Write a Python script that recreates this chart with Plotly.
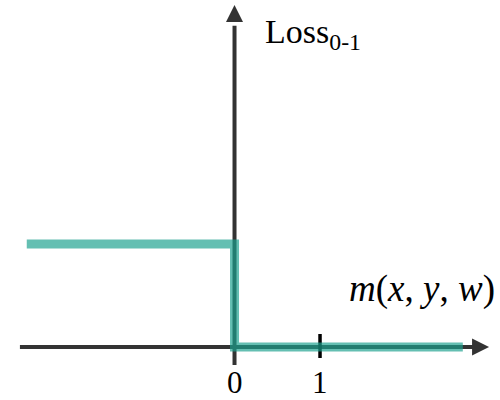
import plotly.graph_objects as go

# 0-1 loss as a function of the margin m(x, y, w)
margin = [-2.43, 0.0, 0.0, 2.67]
loss = [1, 1, 0, 0]

tick_values = [0, 1]
tick_labels = ["0", "1"]

x_axis_span = [-2.51, 2.80]
x_arrow_tip = 2.977
y_axis_span = [-0.175, 3.12]
y_arrow_tip = 3.320

AXIS = "#333333"
TEAL = "rgba(26,160,141,0.68)"
FONT = "Liberation Serif"

fig = go.Figure()

# axis lines (drawn under the loss curve)
fig.add_trace(go.Scatter(x=x_axis_span, y=[0, 0], mode="lines",
                         line=dict(color=AXIS, width=4), hoverinfo="skip"))
fig.add_trace(go.Scatter(x=[0, 0], y=y_axis_span, mode="lines",
                         line=dict(color=AXIS, width=4), hoverinfo="skip"))
# arrow heads
fig.add_trace(go.Scatter(x=[x_arrow_tip], y=[0], mode="markers",
                         marker=dict(symbol="arrow-right", size=17, color=AXIS,
                                     line=dict(width=0)), hoverinfo="skip"))
fig.add_trace(go.Scatter(x=[0], y=[y_arrow_tip], mode="markers",
                         marker=dict(symbol="arrow-up", size=17, color=AXIS,
                                     line=dict(width=0)), hoverinfo="skip"))
# tick mark at 1
fig.add_trace(go.Scatter(x=[1, 1], y=[-0.107, 0.126], mode="lines",
                         line=dict(color="black", width=3.5), hoverinfo="skip"))

# loss curve
fig.add_trace(go.Scatter(x=margin, y=loss, mode="lines",
                         line=dict(color=TEAL, width=9), hoverinfo="skip"))

for v, lab in zip(tick_values, tick_labels):
    fig.add_annotation(x=v, y=-0.345, xref="x", yref="y", text=lab,
                       showarrow=False, xanchor="center", yanchor="middle",
                       borderpad=0,
                       font=dict(family=FONT, size=31, color="black"))

fig.add_annotation(x=0.333, y=3.04, xref="x", yref="y",
                   text="Loss<sub>0-1</sub>", showarrow=False,
                   xanchor="left", yanchor="middle",
                   font=dict(family=FONT, size=34, color="black"))
fig.add_annotation(x=3.07, y=0.565, xref="x", yref="y",
                   text="<i>m</i>(<i>x</i>, <i>y</i>, <i>w</i>)", showarrow=False,
                   xanchor="right", yanchor="middle",
                   font=dict(family=FONT, size=37, color="black"))

fig.update_layout(
    width=500, height=400,
    margin=dict(l=0, r=0, t=0, b=0),
    paper_bgcolor="white", plot_bgcolor="white",
    showlegend=False,
    xaxis=dict(range=[-2.743, 3.105], visible=False, fixedrange=True),
    yaxis=dict(range=[-0.515, 3.369], visible=False, fixedrange=True),
)

fig.write_html("out.html", config={"displayModeBar": False},
               post_script="document.body.style.margin='0';document.body.style.overflow='hidden';")
